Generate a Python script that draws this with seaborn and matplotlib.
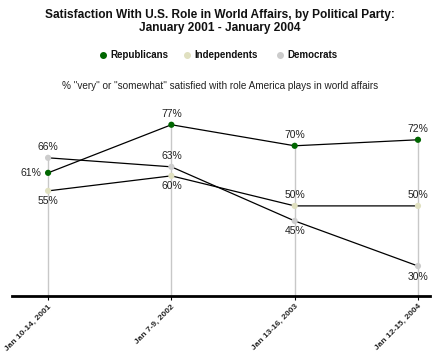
import numpy as np
import pandas as pd
import matplotlib
matplotlib.use("Agg")
import matplotlib.pyplot as plt
import seaborn as sns

sns.set_style("white")
plt.rcParams['font.family'] = ['Liberation Sans', 'DejaVu Sans']

# data
dates = ["Jan 10-14, 2001", "Jan 7-9, 2002", "Jan 13-16, 2003", "Jan 12-15, 2004"]
republicans = [61, 77, 70, 72]
independents = [55, 60, 50, 50]
democrats = [66, 63, 45, 30]

parties = ["Republicans", "Independents", "Democrats"]
colors = {"Republicans": "#006600", "Independents": "#e0e0c0", "Democrats": "#cccccc"}

df = pd.DataFrame({
    "x": list(range(len(dates))) * 3,
    "value": republicans + independents + democrats,
    "party": [p for p in parties for _ in dates],
})

fig = plt.figure(figsize=(4.4, 3.55), dpi=100)
ax = fig.add_axes([12 / 440, 0.166, 418 / 440, 0.508])

# gray drop lines from axis up to the highest point of each date
tops = df.groupby("x")["value"].max()
for xi, top in tops.items():
    ax.plot([xi, xi], [20, top], color="#c8c8c8", lw=1, zorder=1)

for p in parties:
    sub = df[df.party == p]
    sns.lineplot(data=sub, x="x", y="value", color="black", lw=0.9, ax=ax, zorder=2)

sns.scatterplot(data=df, x="x", y="value", hue="party", palette=colors,
                s=20, edgecolor="none", legend=False, ax=ax, zorder=3)

# where each data label goes relative to its point
label_pos = {
    "Republicans": ["left", "above", "above", "above"],
    "Independents": ["below", "below", "above", "above"],
    "Democrats": ["above", "above", "below", "below"],
}
for p in parties:
    sub = df[df.party == p]
    for xi, v, pos in zip(sub.x, sub.value, label_pos[p]):
        if pos == "above":
            ax.annotate(f"{v}%", (xi, v), xytext=(0, 4), textcoords="offset points",
                        ha="center", va="bottom", fontsize=7.5, color="#222222")
        elif pos == "below":
            ax.annotate(f"{v}%", (xi, v), xytext=(0, -4), textcoords="offset points",
                        ha="center", va="top", fontsize=7.5, color="#222222")
        else:
            ax.annotate(f"{v}%", (xi, v), xytext=(-5, 0), textcoords="offset points",
                        ha="right", va="center", fontsize=7.5, color="#222222")

ax.set_xlim(-36 / 123, 3 + 12 / 123)
ax.set_ylim(20, 80)
ax.set_xlabel("")
ax.set_ylabel("")
ax.set_yticks([])
ax.set_xticks(range(len(dates)))
ax.set_xticklabels(dates, rotation=45, ha="right", rotation_mode="anchor",
                   fontsize=6, fontweight="bold")
for side in ["top", "right", "left"]:
    ax.spines[side].set_visible(False)
ax.spines["bottom"].set_linewidth(2)
ax.spines["bottom"].set_color("black")
ax.tick_params(axis="x", length=3, width=0.8, color="black", pad=2, bottom=True)

fig.text(0.5, 1 - 15 / 355, "Satisfaction With U.S. Role in World Affairs, by Political Party:",
         ha="center", va="center", fontsize=8.6, fontweight="bold", color="#111111")
fig.text(0.5, 1 - 28 / 355, "January 2001 - January 2004",
         ha="center", va="center", fontsize=8.6, fontweight="bold", color="#111111")

# legend row
leg_y = 1 - 55 / 355
for p, mx in zip(parties, [103, 187, 280]):
    fig.lines.append(plt.Line2D([mx / 440], [leg_y], marker="o", markersize=4,
                                color=colors[p], lw=0, transform=fig.transFigure))
    fig.text((mx + 7) / 440, leg_y, p, ha="left", va="center", fontsize=7,
             fontweight="bold", color="#111111")

fig.text(0.5, 1 - 86 / 355,
         '% "very" or "somewhat" satisfied with role America plays in world affairs',
         ha="center", va="center", fontsize=7.2, color="#222222")

fig.savefig("out.png", dpi=100)
